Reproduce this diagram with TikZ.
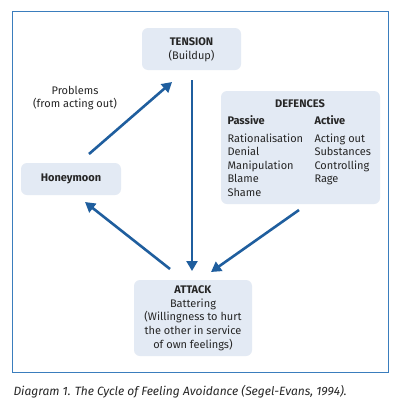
\documentclass[tikz,border=0pt]{standalone}
\usepackage{fontspec}
\setmainfont{Fira Sans}
\usetikzlibrary{arrows.meta}
\definecolor{frameblue}{HTML}{3A7DBD}
\definecolor{boxfill}{HTML}{E3EAF4}
\definecolor{arrowblue}{HTML}{1F5E9E}
\tikzset{
  box/.style={fill=boxfill, rounded corners=6pt, inner sep=0pt},
  conn/.style={draw=arrowblue, line width=2.6pt, -{Triangle[length=10pt,width=11pt]}},
  txt/.style={font=\fontsize{11}{13.5}\selectfont, align=center, text=black!85}
}
\begin{document}
\begin{tikzpicture}[x=1pt,y=-1pt]
\useasboundingbox (0,0) rectangle (400,407);
\fill[white] (0,0) rectangle (400,407);
\draw[frameblue, line width=0.9pt] (12,11.5) rectangle (388,372);
% boxes
\fill[box] (142,28) rectangle (241,70);
\node[txt] (tension) at (191.5,50) {\textbf{TENSION}\\(Buildup)};
\fill[box] (21,163) rectangle (121,195);
\node[txt] (honey) at (71,179) {\textbf{Honeymoon}};
\fill[box] (221,91) rectangle (380,204);
\node[txt] (defhead) at (300,104) {\textbf{DEFENCES}};
\node[txt, anchor=west, align=left] (passive) at (224,120) {\textbf{Passive}};
\node[txt, anchor=west, align=left] (active) at (311,120) {\textbf{Active}};
\node[txt, anchor=north west, align=left] (plist) at (224,130) {Rationalisation\\Denial\\Manipulation\\Blame\\Shame};
\node[txt, anchor=north west, align=left] (alist) at (311,130) {Acting out\\Substances\\Controlling\\Rage};
\fill[box] (134,280) rectangle (252,356);
\node[txt, font=\fontsize{11}{13.7}\selectfont] (attack) at (193,318) {\textbf{ATTACK}\\Battering\\(Willingness to hurt\\the other in service\\of own feelings)};
\node[txt] (problems) at (75,98) {Problems\\(from acting out)};
% connector anchors
\coordinate (h1) at (89,154);
\coordinate (t1) at (172,82);
\coordinate (t2) at (192,80);
\coordinate (a1) at (192,271);
\coordinate (a2) at (170,269);
\coordinate (h2) at (85,202);
\coordinate (d1) at (299,210);
\coordinate (a3) at (211,272);
\draw[conn] (h1) -- (t1);
\draw[conn] (t2) -- (a1);
\draw[conn] (a2) -- (h2);
\draw[conn] (d1) -- (a3);
\node[anchor=west, font=\fontsize{12}{14}\selectfont\itshape, text=black!85] (caption) at (10,392) {Diagram 1. The Cycle of Feeling Avoidance (Segel-Evans, 1994).};
\end{tikzpicture}
\end{document}
